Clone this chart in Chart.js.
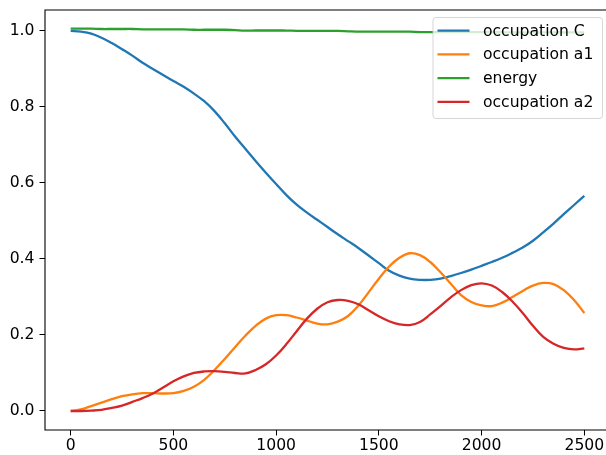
<!DOCTYPE html>
<html>
<head>
<meta charset="utf-8">
<script src="https://cdn.jsdelivr.net/npm/chart.js@4/dist/chart.umd.min.js"></script>
<style>
  html, body { margin: 0; padding: 0; background: #fff; overflow: hidden; width: 606px; height: 455px; }
  #wrap { width: 640px; height: 455px; }
</style>
</head>
<body>
<div id="wrap"><canvas id="c" width="640" height="455"></canvas></div>
<script>
// time steps
const steps = [0,50,100,150,200,250,300,350,400,450,500,550,600,650,700,750,800,850,900,950,
  1000,1050,1100,1150,1200,1250,1300,1350,1400,1450,1500,1550,1600,1650,1700,1750,1800,1850,1900,1950,
  2000,2050,2100,2150,2200,2250,2300,2350,2400,2450,2500];

const occupationC = [1.000,0.998,0.993,0.982,0.968,0.952,0.935,0.916,0.900,0.884,0.868,0.853,0.835,0.815,0.789,0.757,0.722,0.690,0.658,0.627,
  0.597,0.568,0.543,0.522,0.503,0.484,0.465,0.447,0.429,0.409,0.389,0.369,0.356,0.348,0.345,0.345,0.348,0.355,0.363,0.372,
  0.382,0.392,0.403,0.416,0.430,0.448,0.470,0.493,0.518,0.542,0.566];

const occupationA1 = [0.000,0.004,0.013,0.022,0.031,0.039,0.044,0.047,0.047,0.046,0.047,0.053,0.064,0.082,0.108,0.137,0.168,0.198,0.224,0.243,
  0.252,0.252,0.246,0.238,0.230,0.228,0.235,0.250,0.277,0.312,0.348,0.380,0.403,0.415,0.410,0.392,0.365,0.335,0.305,0.287,
  0.278,0.276,0.285,0.300,0.316,0.330,0.337,0.334,0.318,0.292,0.258];

const energy = [1.006,1.006,1.006,1.005,1.005,1.005,1.005,1.004,1.004,1.004,1.004,1.004,1.003,1.003,1.003,1.003,1.002,1.001,1.001,1.001,
  1.001,1.001,1.000,1.000,1.000,1.000,1.000,0.999,0.998,0.998,0.998,0.998,0.998,0.998,0.997,0.997,0.997,0.997,0.997,0.997,
  0.997,0.997,0.996,0.996,0.996,0.996,0.996,0.996,0.996,0.996,0.996];

const occupationA2 = [0.000,0.000,0.001,0.003,0.008,0.014,0.024,0.034,0.046,0.062,0.078,0.091,0.100,0.104,0.105,0.103,0.100,0.099,0.108,0.123,
  0.146,0.176,0.210,0.243,0.269,0.286,0.292,0.290,0.281,0.265,0.249,0.236,0.228,0.226,0.234,0.254,0.276,0.299,0.318,0.331,
  0.336,0.330,0.313,0.288,0.258,0.224,0.195,0.177,0.166,0.162,0.165];

const seriesNames = ['occupation C', 'occupation a1', 'energy', 'occupation a2'];
const seriesColors = ['#1f77b4', '#ff7f0e', '#2ca02c', '#d62728'];
const yTicks = [0.0, 0.2, 0.4, 0.6, 0.8, 1.0];
const xTicks = [0, 500, 1000, 1500, 2000, 2500];

const FONT = { family: 'DejaVu Sans', size: 15.6 };
const LW = 2.3;

function pts(vals) { return steps.map((s, i) => ({ x: s, y: vals[i] })); }

const seriesValues = [occupationC, occupationA1, energy, occupationA2];
const datasets = seriesValues.map((vals, i) => ({
  label: seriesNames[i],
  data: pts(vals),
  borderColor: seriesColors[i],
  backgroundColor: seriesColors[i],
  borderWidth: LW,
  pointRadius: 0,
  fill: false,
  tension: 0.4,
  order: seriesValues.length - i
}));

// no extra label padding around the plot area
function noPad(scale) {
  scale.paddingTop = 0; scale.paddingBottom = 0;
  scale.paddingLeft = 0; scale.paddingRight = 0;
}

// axes spines (top, left, bottom), drawn over the lines
const framePlugin = {
  id: 'frame',
  afterDatasetsDraw(chart) {
    const { ctx, chartArea: a } = chart;
    ctx.save();
    ctx.strokeStyle = '#000';
    ctx.lineWidth = 1.1;
    ctx.beginPath();
    ctx.moveTo(a.right, a.top);
    ctx.lineTo(a.left, a.top);
    ctx.lineTo(a.left, a.bottom);
    ctx.lineTo(a.right, a.bottom);
    ctx.stroke();
    ctx.restore();
  }
};

// legend box in the upper right of the plot area
const legendPlugin = {
  id: 'innerLegend',
  afterDraw(chart) {
    const ctx = chart.ctx;
    const x0 = 433, y0 = 17.5, w = 169.5, h = 101;
    ctx.save();
    ctx.globalAlpha = 0.8;
    ctx.fillStyle = '#fff';
    ctx.beginPath();
    ctx.roundRect(x0, y0, w, h, 3);
    ctx.fill();
    ctx.strokeStyle = '#cccccc';
    ctx.lineWidth = 1;
    ctx.stroke();
    ctx.globalAlpha = 1;
    ctx.font = `${FONT.size}px "${FONT.family}"`;
    ctx.textBaseline = 'middle';
    ctx.fillStyle = '#000';
    seriesNames.forEach((name, i) => {
      const cy = 30.7 + i * 23.7;
      ctx.strokeStyle = seriesColors[i];
      ctx.lineWidth = LW;
      ctx.beginPath();
      ctx.moveTo(437.5, cy);
      ctx.lineTo(469.5, cy);
      ctx.stroke();
      ctx.fillText(name, 483, cy + 1);
    });
    ctx.restore();
  }
};

new Chart(document.getElementById('c'), {
  type: 'line',
  data: { datasets },
  options: {
    responsive: false,
    animation: false,
    devicePixelRatio: 1,
    layout: { padding: { top: 10, right: 30, left: 0, bottom: 0 } },
    plugins: { legend: { display: false }, tooltip: { enabled: false } },
    scales: {
      x: {
        type: 'linear',
        min: -125,
        max: 2625,
        afterBuildTicks(scale) { scale.ticks = xTicks.map(v => ({ value: v })); },
        afterFit(scale) { scale.height = 25; noPad(scale); },
        grid: { display: true, drawOnChartArea: false, drawTicks: true, tickLength: 5.5, tickColor: '#000', tickWidth: 1 },
        border: { display: false },
        ticks: { color: '#000', font: FONT, padding: 1, maxRotation: 0, autoSkip: false, callback: v => String(v) }
      },
      y: {
        type: 'linear',
        min: -0.05,
        max: 1.055,
        afterBuildTicks(scale) { scale.ticks = yTicks.map(v => ({ value: v })); },
        afterFit(scale) { scale.width = 45; noPad(scale); },
        grid: { display: true, drawOnChartArea: false, drawTicks: true, tickLength: 5.5, tickColor: '#000', tickWidth: 1 },
        border: { display: false },
        ticks: { color: '#000', font: FONT, padding: 5, autoSkip: false, callback: v => Number(v).toFixed(1) }
      }
    }
  },
  plugins: [framePlugin, legendPlugin]
});
</script>
</body>
</html>
